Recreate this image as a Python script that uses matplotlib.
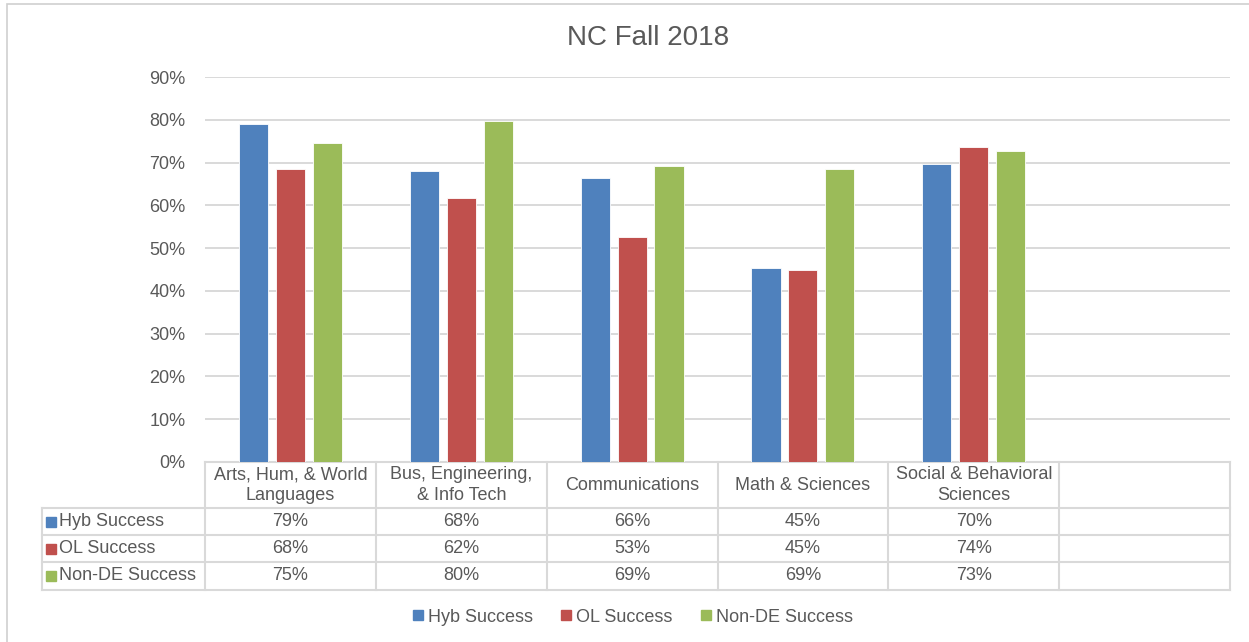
import matplotlib.pyplot as plt
import matplotlib.transforms as mtransforms
from matplotlib.lines import Line2D
from matplotlib.patches import Rectangle
import numpy as np

plt.rcParams['font.family'] = ['Liberation Sans', 'DejaVu Sans']

# data
categories = ['Arts, Hum, & World\nLanguages', 'Bus, Engineering,\n& Info Tech',
              'Communications', 'Math & Sciences', 'Social & Behavioral\nSciences']
series = ['Hyb Success', 'OL Success', 'Non-DE Success']
hyb = [79.1, 68.0, 66.4, 45.4, 69.7]
ol = [68.4, 61.8, 52.6, 45.0, 73.6]
non_de = [74.6, 79.8, 69.3, 68.6, 72.6]
colors = ['#4F81BD', '#C0504D', '#9BBB59']
values = [hyb, ol, non_de]

W, H = 1249, 642
def fy(py):
    return 1 - py / H

grid_c = '#d9d9d9'
txt_c = '#595959'
fs = 13

fig = plt.figure(figsize=(W / 100, H / 100), dpi=100)
ax = fig.add_axes([205 / W, fy(462), 1025 / W, (462 - 77) / H])

x = np.arange(len(categories))
bw = 0.17
step = 0.216
for i, (vals, c) in enumerate(zip(values, colors)):
    ax.bar(x + (i - 1) * step, np.array(vals) / 100, bw, color=c,
           edgecolor='white', linewidth=0.6, zorder=3)

ax.set_xlim(-0.5, 5.5)
ax.set_ylim(0, 0.9)
yt = np.arange(0, 0.91, 0.1)
ax.set_yticks(yt)
ax.set_yticklabels([f'{int(round(v * 100))}%' for v in yt], fontsize=fs, color=txt_c)
ax.tick_params(axis='y', length=0, pad=14)
ax.set_xticks([])
ax.grid(axis='y', color=grid_c, lw=1.4, zorder=0)
for s in ax.spines.values():
    s.set_visible(False)

fig.text(648 / W, fy(38), 'NC Fall 2018', ha='center', va='center',
         fontsize=20, color=txt_c)

# data table under the chart
tr = mtransforms.blended_transform_factory(ax.transData, fig.transFigure)
left = -0.5 - (205 - 42) / (1025 / 6)
row_y = [462, 508, 535, 562, 590]
lkw = dict(color=grid_c, lw=1.5, transform=tr, clip_on=False)

ax.add_line(Line2D([-0.5, 5.5], [fy(row_y[0])] * 2, **lkw))
for py in row_y[1:]:
    ax.add_line(Line2D([left, 5.5], [fy(py)] * 2, **lkw))
ax.add_line(Line2D([left, left], [fy(row_y[1]), fy(row_y[-1])], **lkw))
for k in range(7):
    ax.add_line(Line2D([k - 0.5, k - 0.5], [fy(row_y[0]), fy(row_y[-1])], **lkw))

for j, cat in enumerate(categories):
    ax.text(j, fy((row_y[0] + row_y[1]) / 2), cat, transform=tr, ha='center',
            va='center', fontsize=fs, color=txt_c, linespacing=1.3)

for i, (name, vals, c) in enumerate(zip(series, values, colors)):
    yc = fy((row_y[i + 1] + row_y[i + 2]) / 2)
    ax.plot([left + 0.05], [yc], marker='s', ms=6.5, color=c, transform=tr,
            clip_on=False)
    ax.text(left + 0.1, yc, name, transform=tr, ha='left', va='center',
            fontsize=fs, color=txt_c)
    for j, v in enumerate(vals):
        ax.text(j, yc, f'{round(v)}%', transform=tr, ha='center', va='center',
                fontsize=fs, color=txt_c)

handles = [Line2D([], [], marker='s', ls='none', ms=6.5, color=c) for c in colors]
fig.legend(handles, series, loc='center', bbox_to_anchor=(633 / W, fy(617)),
           ncol=3, frameon=False, fontsize=fs, handlelength=0.5,
           handletextpad=0.3, columnspacing=1.6, labelcolor=txt_c)

fig.add_artist(Rectangle((7 / W, -0.05), 1.1, fy(4) + 0.05, fill=False,
                         edgecolor='#cfcfcf', lw=1.2, transform=fig.transFigure))

fig.savefig('out.png', dpi=100, facecolor='white')
